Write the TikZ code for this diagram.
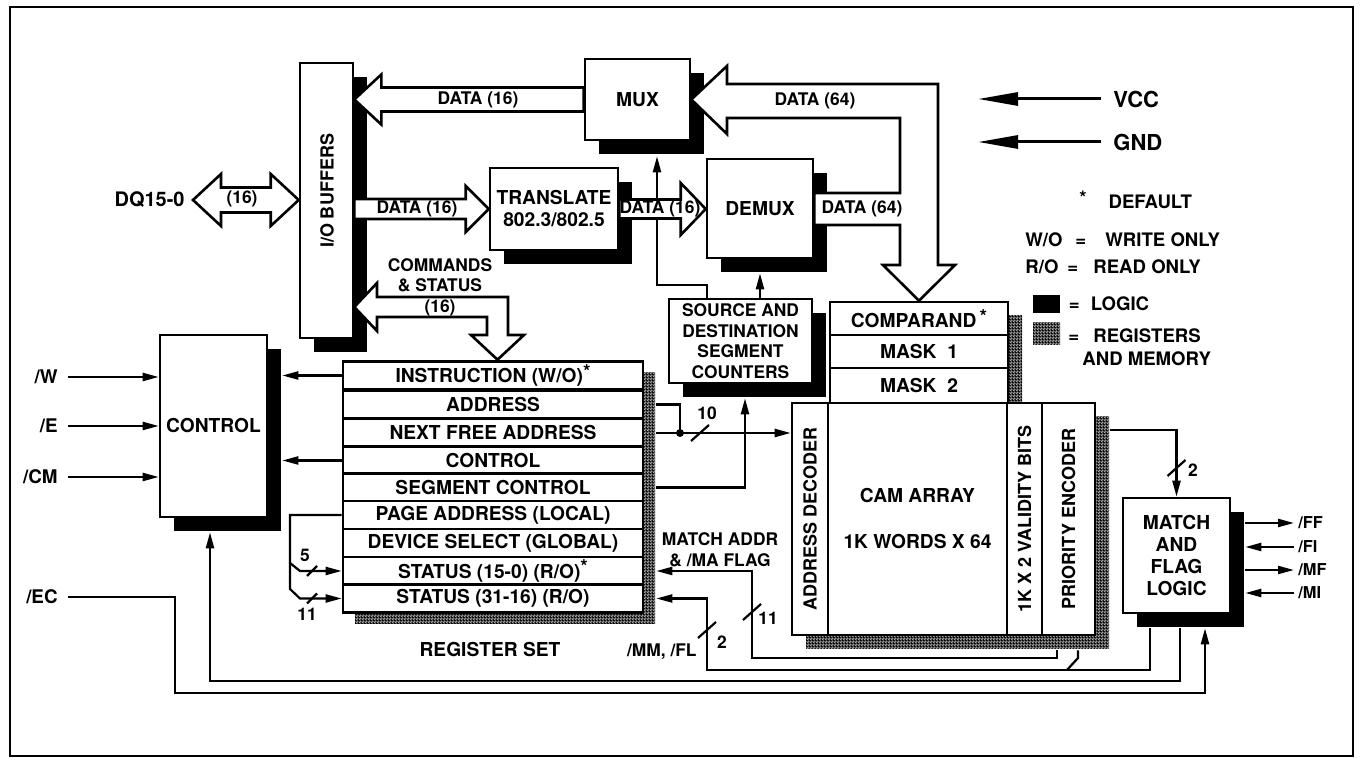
\documentclass[tikz,border=0pt]{standalone}
\usepackage{fontspec}
\setmainfont{TeX Gyre Heros}
\usetikzlibrary{positioning, arrows.meta, calc, shadows, patterns}

\pgfdeclarepatternformonly{stipple}{\pgfpointorigin}{\pgfpoint{1.6pt}{1.6pt}}{\pgfpoint{1.6pt}{1.6pt}}{%
  \pgfseteorule
  \pgfpathrectangle{\pgfpointorigin}{\pgfpoint{1.6pt}{1.6pt}}%
  \pgfpathcircle{\pgfpoint{.8pt}{.8pt}}{.5pt}%
  \pgfusepath{fill}}

\newcommand\ftitle{\fontsize{9.6}{11}\selectfont\bfseries}
\newcommand\flabel{\fontsize{8.7}{10.3}\selectfont\bfseries}
\newcommand\fcol{\fontsize{9}{10}\selectfont\bfseries}
\newcommand\fpin{\fontsize{9.4}{11}\selectfont\bfseries}
\newcommand\fpinr{\fontsize{8.2}{10}\selectfont\bfseries}
\newcommand\fkey{\fontsize{9.3}{11.5}\selectfont\bfseries}
\newcommand\fsupply{\fontsize{11}{13}\selectfont\bfseries}
\newcommand\defmark{\raisebox{0.45ex}{*}}

\tikzset{
    box/.style     = {draw, line width=1.3pt, fill=white, inner sep=0pt, align=center, font=\ftitle},
    logic/.style   = {box, drop shadow={shadow xshift=7pt, shadow yshift=-7pt, opacity=1, fill=black}},
    memory/.style  = {box, drop shadow={shadow xshift=#1, shadow yshift=-#1, opacity=1, pattern=stipple}},
    memory/.default = 7pt,
    regrow/.style  = {box, minimum width=150pt, minimum height=14pt},
    maskrow/.style = {box, minimum width=89pt, minimum height=16.5pt},
    camcol/.style  = {box, rotate=90, minimum width=116pt, font=\fcol},
    wire/.style    = {line width=1.1pt},
    arr/.style     = {wire, -{Triangle[length=8pt, width=4pt]}},
    supply/.style  = {line width=1.5pt, -{Triangle[length=20pt, width=6.5pt]}},
    bus/.style     = {draw, line width=1.3pt, fill=white},
    buslbl/.style  = {font=\flabel, inner sep=0pt},
    txt/.style     = {font=\flabel, inner sep=0pt, align=center},
    pinL/.style    = {font=\fpin, inner sep=0pt, inner xsep=5pt, anchor=east},
    pinR/.style    = {font=\fpinr, inner sep=0pt, inner xsep=2pt, anchor=west},
    keytxt/.style  = {font=\fkey, inner sep=0pt, anchor=west, align=left},
    % fat bus arrow: shaft half width, head half width, head length
    fat/.style n args={3}{to path={
        -- ($(\tikztostart)!#1!90:(\tikztotarget)$)
        -- ($($(\tikztotarget)!#3!(\tikztostart)$)!#1!-90:(\tikztostart)$)
        -- ($($(\tikztotarget)!#3!(\tikztostart)$)!#2!-90:(\tikztostart)$)
        -- (\tikztotarget)
        -- ($($(\tikztotarget)!#3!(\tikztostart)$)!#2!90:(\tikztostart)$)
        -- ($($(\tikztotarget)!#3!(\tikztostart)$)!#1!90:(\tikztostart)$)
        -- ($(\tikztostart)!#1!-90:(\tikztotarget)$)
        -- cycle}},
    fatboth/.style n args={3}{to path={
        -- ($($(\tikztostart)!#3!(\tikztotarget)$)!#2!90:(\tikztotarget)$)
        -- ($($(\tikztostart)!#3!(\tikztotarget)$)!#1!90:(\tikztotarget)$)
        -- ($($(\tikztotarget)!#3!(\tikztostart)$)!#1!-90:(\tikztostart)$)
        -- ($($(\tikztotarget)!#3!(\tikztostart)$)!#2!-90:(\tikztostart)$)
        -- (\tikztotarget)
        -- ($($(\tikztotarget)!#3!(\tikztostart)$)!#2!90:(\tikztostart)$)
        -- ($($(\tikztotarget)!#3!(\tikztostart)$)!#1!90:(\tikztostart)$)
        -- ($($(\tikztostart)!#3!(\tikztotarget)$)!#1!-90:(\tikztotarget)$)
        -- ($($(\tikztostart)!#3!(\tikztotarget)$)!#2!-90:(\tikztotarget)$)
        -- cycle}}
}

\begin{document}
\begin{tikzpicture}[x=0.5pt, y=-0.5pt]
    \useasboundingbox (0,0) rectangle (1362,758);
    \draw[line width=1.2pt] (10,7) rectangle (1353,756);

    % --- data path ---
    \node[logic, minimum width=26.5pt, minimum height=137.5pt] (iobuf) at (326.5,200.5) {};
    \node[font=\fcol, rotate=90, inner sep=0pt] (iobuftxt) at (327,191) {I/O BUFFERS};
    \node[logic, minimum width=52.5pt, minimum height=40.5pt] (mux)   at (637.5,99.5) {MUX};
    \node[logic, minimum width=64pt,   minimum height=41pt]   (trans) at (554,209)    {TRANSLATE\\802.3/802.5};
    \node[logic, minimum width=53pt,   minimum height=49.5pt] (demux) at (760,208.5)  {DEMUX};
    \node[logic, minimum width=71.5pt, minimum height=42pt, font=\flabel] (segcnt) at (740.5,341)
        {SOURCE AND\\DESTINATION\\SEGMENT\\COUNTERS};

    % --- control ---
    \node[logic, minimum width=53.5pt, minimum height=91pt] (control) at (213.5,426) {CONTROL};

    % --- register set ---
    \node[memory=6pt, minimum width=150pt, minimum height=125.5pt] (regset) at (493,486.5) {};
    \node[regrow] (r1) at (493,375.5) {INSTRUCTION (W/O)\defmark};
    \node[regrow] (r2) at (493,404.5) {ADDRESS};
    \node[regrow] (r3) at (493,433)   {NEXT FREE ADDRESS};
    \node[regrow] (r4) at (493,460.5) {CONTROL};
    \node[regrow] (r5) at (493,487.5) {SEGMENT CONTROL};
    \node[regrow] (r6) at (493,515)   {PAGE ADDRESS (LOCAL)};
    \node[regrow] (r7) at (493,543)   {DEVICE SELECT (GLOBAL)};
    \node[regrow] (r8) at (493,571)   {STATUS (15-0) (R/O)\defmark};
    \node[regrow] (r9) at (493,598.5) {STATUS (31-16) (R/O)};
    \node[txt, font=\ftitle] (regsetlbl) at (490,650) {REGISTER SET};

    % --- comparand, masks and CAM ---
    \node[memory, minimum width=89pt, minimum height=50.5pt] (cmpstack) at (919,352.5) {};
    \node[maskrow] (cmp)   at (919,318.5) {COMPARAND\,\defmark};
    \node[maskrow] (mask1) at (919,351.5) {MASK\ \ 1};
    \node[maskrow, minimum height=17.5pt] (mask2) at (919,385.5) {MASK\ \ 2};

    \node[memory, minimum width=151.5pt, minimum height=116pt] (cam) at (943.5,519) {};
    \node[camcol, minimum height=18pt]   (adec)   at (810,519)    {ADDRESS DECODER};
    \node[box, minimum width=89.5pt, minimum height=116pt] (camarr) at (917.5,519) {CAM ARRAY\\[12pt]1K WORDS X 64};
    \node[camcol, minimum height=17.5pt] (valid)  at (1024.5,519) {1K X 2 VALIDITY BITS};
    \node[camcol, minimum height=26.5pt] (prienc) at (1068.5,519) {PRIORITY ENCODER};

    % --- match and flag logic ---
    \node[logic, minimum width=53.5pt, minimum height=57.5pt] (match) at (1176.5,555.5) {MATCH\\AND\\FLAG\\LOGIC};

    % shadow edges, wires start there
    \coordinate (ctlsh) at ([xshift=7pt]control.east);
    \coordinate (regsh) at ([xshift=6pt]regset.east);
    \coordinate (camsh) at ([shift={(14,14)}]cam.south east);
    \coordinate (matsh) at ([shift={(14,14)}]match.south east);

    % --- pins ---
    \node[pinL] (w)  at (68,377) {/W};
    \node[pinL] (e)  at (68,426) {/E};
    \node[pinL] (cm) at (68,477) {/CM};
    \node[pinL] (ec) at (68,597) {/EC};
    \node[pinR] (ff) at (1294,523) {/FF};
    \node[pinR] (fi) at (1294,547) {/FI};
    \node[pinR] (mf) at (1294,570) {/MF};
    \node[pinR] (mi) at (1294,593) {/MI};
    \node[font={\fontsize{10}{12}\selectfont\bfseries}, inner sep=0pt, inner xsep=4pt, anchor=east] (dq) at (193,200) {DQ15-0};

    \draw[arr] (w.east)  -- (w.east -| control.west);
    \draw[arr] (e.east)  -- (e.east -| control.west);
    \draw[arr] (cm.east) -- (cm.east -| control.west);
    \draw[arr] (r1.west) -- (r1.west -| ctlsh);
    \draw[arr] (r4.west) -- (r4.west -| ctlsh);

    \draw[arr] (matsh |- ff) -- (ff.west);
    \draw[arr] (fi.west) -- (matsh |- fi);
    \draw[arr] (matsh |- mf) -- (mf.west);
    \draw[arr] (mi.west) -- (matsh |- mi);

    % page address / device select to status
    \coordinate (brk) at (290,563);
    \draw[arr] (r6.west) -| (brk) -- (300,571) -- (r8.west);
    \draw[arr] (brk) -- (290,589) -- (300,598.5) -- (r9.west);
    \draw[wire] (312,571) ++(-5,5) -- ++(10,-10);
    \draw[wire] (312,598.5) ++(-5,5) -- ++(10,-10);
    \node[txt] (n5)  at (305,555) {5};
    \node[txt] (n11) at (307,614) {11};

    % address to decoder
    \coordinate (ajoin) at (680,433);
    \draw[wire] (r2.east -| regsh) -| (ajoin);
    \fill (ajoin) circle (2pt);
    \draw[arr] (r3.east -| regsh) -- (r3.east -| cam.west);
    \draw[wire] (700,433) ++(-9,8) -- ++(18,-16);
    \node[txt] (n10) at (707,413) {10};

    % segment counters
    \draw[arr] (r5.east -| regsh) -| ([shift={(4.5,14)}]segcnt.south);
    \draw[arr] (segcnt.north -| demux.south) -- ([yshift=-7pt]demux.south);
    \draw[arr] (segcnt.north -| 707,0) |- (657,285) -- ([shift={(19.5,15)}]mux.south);

    % priority encoder to match logic
    \draw[arr] (camsh |- 0,430) -| (match.north);
    \draw[wire] (1176.5,468) ++(-9,8) -- ++(18,-16);
    \node[txt] (n2b) at (1193,470) {2};

    % bottom wires
    \draw[arr] (matsh -| 1180,0) |- (210,681) -- ([shift={(-3.5,14)}]control.south);
    \draw[arr] (ec.east) -| (175,693) -| (matsh -| 1205,0);
    \draw[arr] (camsh -| 1057,0) |- (752,658) |- (r8.east -| regsh);
    \draw[arr] (matsh -| 1150,0) |- (707,670) |- (r9.east -| regsh);
    \draw[wire] (1067,670) -- (1078,658) -- (camsh -| 1078,0);
    \draw[wire] (752,612) ++(-9,8) -- ++(18,-16);
    \node[txt] (n11b) at (768,618) {11};
    \draw[wire] (707,630) ++(-9,8) -- ++(18,-16);
    \node[txt] (n2a) at (722,642) {2};
    \node[txt, anchor=east] (mmfl) at (697,652) {/MM, /FL};
    \node[txt] (maflag) at (720,550) {MATCH ADDR\\\& /MA FLAG};

    % --- fat buses ---
    \draw[bus] (dq.east) to[fatboth={6.25pt}{13pt}{14pt}] (iobuf.west |- dq.east);
    \node[buslbl] (dqw) at (242,199) {(16)};
    \draw[bus] (mux.west) to[fat={6pt}{12.5pt}{13.5pt}] (iobuf.east |- mux.west);
    \node[buslbl] (rdlbl) at (478,100) {DATA (16)};
    \draw[bus] (iobuf.east |- trans.west) to[fat={5pt}{11.5pt}{11.5pt}] (trans.west);
    \node[buslbl] (wrlbl) at (417,209) {DATA (16)};
    \draw[bus] (trans.east) to[fat={4.75pt}{13pt}{12.5pt}] (demux.west |- trans.east);
    \node[buslbl] (trlbl) at (660,209) {DATA (16)};

    \draw[bus] (iobuf.east |- 0,307) -- (377,283) -- (377,297) -- (508,297) -- (508,335) -- (524,335)
        -- (regset.north -| 497.5,0) -- (471,335) -- (487,335) -- (487,317) -- (377,317) -- (377,331) -- cycle;
    \node[txt] (cmdlbl) at (440,287) {COMMANDS\\\& STATUS\\(16)};

    \draw[bus] (mux.east) -- (727,66) -- (727,84) -- (938,84) -- (938,265) -- (955,265)
        -- (cmp.north -| 919,0) -- (883,265) -- (900,265) -- (900,225) -- (demux.east |- 0,225)
        -- (demux.east |- 0,193) -- (900,193) -- (900,118) -- (727,118) -- (727,134) -- cycle;
    \node[buslbl] (cmplbl) at (815,101) {DATA (64)};
    \node[buslbl] (dmxlbl) at (862,209) {DATA (64)};

    % --- legend ---
    \node[font=\fsupply, anchor=west, inner sep=0pt, inner xsep=6pt] (vcc) at (1101,99)  {VCC};
    \node[font=\fsupply, anchor=west, inner sep=0pt, inner xsep=6pt] (gnd) at (1101,142) {GND};
    \coordinate (vccend) at (978,99);
    \coordinate (gndend) at (978,142);
    \draw[supply] (vcc.west) -- (vccend);
    \draw[supply] (gnd.west) -- (gndend);

    \node[keytxt] (dflt) at (1079,200) {\defmark\hspace{11pt}DEFAULT};
    \node[keytxt] (wo) at (1025,240) {\makebox[25pt][l]{W/O}\makebox[15pt][l]{=}WRITE ONLY};
    \node[keytxt] (ro) at (1025,267) {\makebox[21pt][l]{R/O}\makebox[13pt][l]{=}READ ONLY};
    \node[fill=black, minimum width=13.5pt, minimum height=9pt, inner sep=0pt] (keylogic) at (1046.5,304) {};
    \node[pattern=stipple, minimum width=13.5pt, minimum height=11pt, inner sep=0pt] (keymem) at (1046.5,334) {};
    \node[keytxt, right=4pt of keylogic] (logictxt) {\makebox[11pt][l]{=}LOGIC};
    \node[keytxt, anchor=north west] (memtxt) at (1068,328) {\makebox[12.5pt][l]{=}REGISTERS\\\hspace*{7pt}AND MEMORY};
\end{tikzpicture}
\end{document}
